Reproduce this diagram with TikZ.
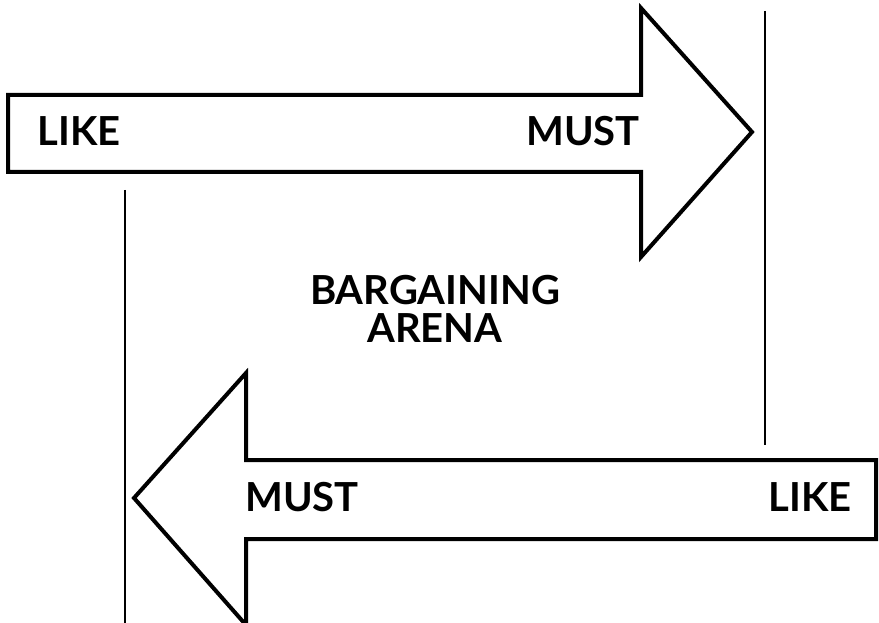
\documentclass[tikz,border=0pt]{standalone}
\usepackage{fontspec}
\setmainfont{Lato}
\begin{document}
\begin{tikzpicture}[x=1pt,y=-1pt,
  arrowshape/.style={draw=black,line width=4pt,line join=miter,fill=white},
  divider/.style={draw=black,line width=2pt},
  lbl/.style={font=\fontsize{40}{46}\selectfont\bfseries,inner sep=0pt,anchor=center}]
\useasboundingbox (0,0) rectangle (879,623);
% top arrow (pointing right)
\draw[arrowshape] (8,95) -- (641,95) -- (641,8) -- (752,132) -- (641,257) -- (641,172) -- (8,172) -- cycle;
% bottom arrow (pointing left)
\draw[arrowshape] (876,460) -- (246,460) -- (246,373) -- (134,498) -- (246,625) -- (246,539) -- (876,539) -- cycle;
% dividers
\draw[divider] (765,11) -- (765,445);
\draw[divider] (125,190) -- (125,623);
% labels
\node[lbl] (like1) at (79,131) {LIKE};
\node[lbl] (must1) at (583,131) {MUST};
\node[lbl,align=center] (arena) at (435,309) {BARGAINING\\[-8pt]ARENA};
\node[lbl] (must2) at (302,497) {MUST};
\node[lbl] (like2) at (810,497) {LIKE};
\end{tikzpicture}
\end{document}
